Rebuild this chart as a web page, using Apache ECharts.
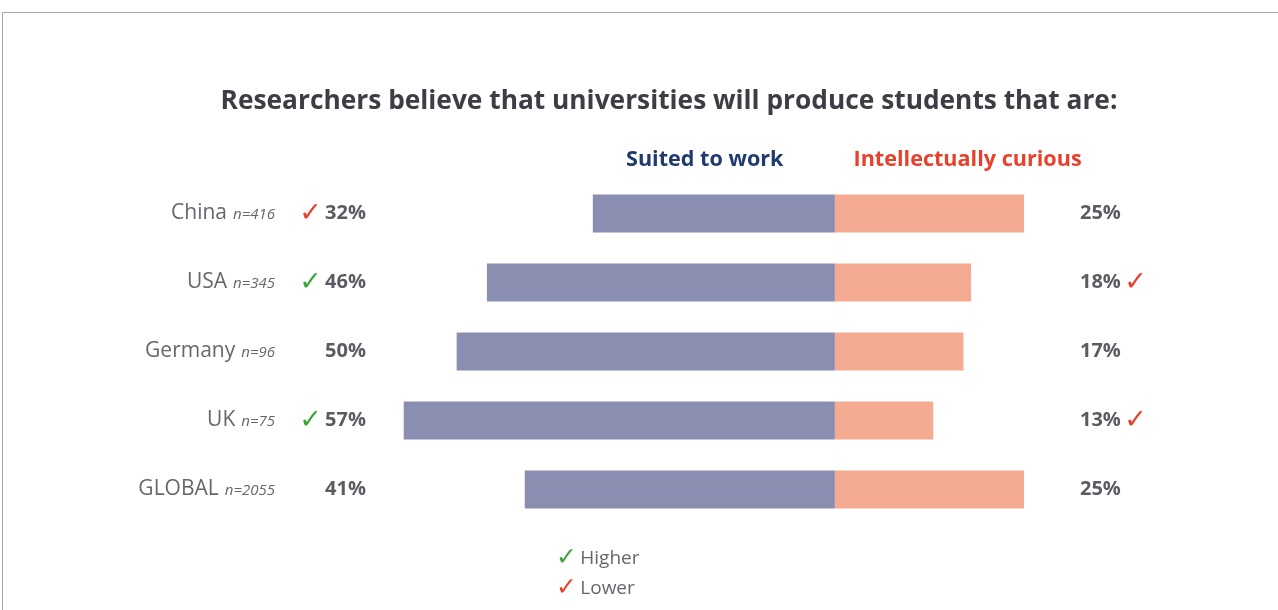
<!DOCTYPE html>
<html>
<head>
<meta charset="utf-8">
<script src="https://cdn.jsdelivr.net/npm/echarts@6/dist/echarts.min.js"></script>
<style>
  html, body { margin: 0; padding: 0; background: #fff; }
  #chart { width: 1278px; height: 610px; }
</style>
</head>
<body>
<div id="chart"></div>
<script>
// data
var countries = ['China', 'USA', 'Germany', 'UK', 'GLOBAL'];
var samples = [416, 345, 96, 75, 2055];
var suitedToWork = [32, 46, 50, 57, 41];
var curious = [25, 18, 17, 13, 25];
// check marks vs. global: 'hi' = higher, 'lo' = lower, '' = none
var suitedMarks = ['lo', 'hi', '', 'hi', ''];
var curiousMarks = ['', 'lo', '', 'lo', ''];

var seriesNames = ['Suited to work', 'Intellectually curious'];
var textGray = '#66666e';
var green = '#3aa63a';
var red = '#e8402a';

var chart = echarts.init(document.getElementById('chart'));

function markTag(m) {
  if (m === 'hi') return '{hi|✓}';
  if (m === 'lo') return '{lo|✓}';
  return '';
}

var markRich = {
  hi: { color: green, fontSize: 27, fontFamily: 'DejaVu Sans' },
  lo: { color: red, fontSize: 27, fontFamily: 'DejaVu Sans' },
  p: { color: '#5b5b63', fontSize: 20, fontWeight: 'bold', fontFamily: 'Open Sans' }
};

var option = {
  backgroundColor: '#fff',
  animation: false,
  title: {
    text: 'Researchers believe that universities will produce students that are:',
    left: 664,
    textAlign: 'center',
    top: 84,
    textStyle: {
      color: '#3d3d45',
      fontSize: 26.3,
      fontWeight: 'bold',
      fontFamily: 'Open Sans'
    }
  },
  legend: {
    left: 616,
    top: 144,
    itemWidth: 0,
    itemHeight: 0,
    itemGap: 65,
    selectedMode: false,
    textStyle: { fontSize: 21.6, fontWeight: 'bold', fontFamily: 'Open Sans' },
    data: [
      { name: seriesNames[0], textStyle: { color: '#1f3a6e' } },
      { name: seriesNames[1], textStyle: { color: red } }
    ]
  },
  grid: {
    left: 381,
    width: 696,
    top: 179,
    height: 345
  },
  xAxis: {
    type: 'value',
    min: -60,
    max: 32,
    show: false
  },
  yAxis: [{
    type: 'category',
    inverse: true,
    data: countries,
    axisLine: { show: false },
    axisTick: { show: false },
    axisLabel: {
      margin: 106,
      formatter: function (v, i) {
        return '{c|' + v + '}{n|n=' + samples[i] + '}';
      },
      rich: {
        c: { color: textGray, fontSize: 21, fontFamily: 'Open Sans' },
        n: { color: textGray, fontSize: 15, fontStyle: 'italic', fontFamily: 'Open Sans', padding: [3, 0, 0, 6] }
      }
    }
  }, {
    type: 'category',
    inverse: true,
    position: 'left',
    data: countries,
    axisLine: { show: false },
    axisTick: { show: false },
    axisLabel: {
      margin: 15,
      formatter: function (v, i) {
        return markTag(suitedMarks[i]) + ' {p|' + suitedToWork[i] + '%}';
      },
      rich: markRich
    }
  }, {
    type: 'category',
    inverse: true,
    position: 'right',
    data: countries,
    axisLine: { show: false },
    axisTick: { show: false },
    axisLabel: {
      margin: 3,
      formatter: function (v, i) {
        return '{p|' + curious[i] + '%} ' + markTag(curiousMarks[i]);
      },
      rich: markRich
    }
  }],
  series: [{
    name: seriesNames[0],
    type: 'bar',
    barWidth: 38,
    barGap: '-100%',
    itemStyle: { color: '#8a8eb0' },
    data: suitedToWork.map(function (v) { return -v; })
  }, {
    name: seriesNames[1],
    type: 'bar',
    barWidth: 38,
    barGap: '-100%',
    itemStyle: { color: '#f5ab91' },
    data: curious
  }],
  graphic: [{
    type: 'rect',
    shape: { x: 2.5, y: 12.5, width: 1400, height: 700 },
    style: { fill: 'none', stroke: '#a8a8a8', lineWidth: 1 },
    silent: true
  }, {
    type: 'text',
    left: 556,
    top: 546,
    style: {
      text: '{hi|✓} {t|Higher}\n{lo|✓} {t|Lower}',
      rich: {
        hi: { fill: green, fontSize: 25, fontFamily: 'DejaVu Sans', lineHeight: 30 },
        lo: { fill: red, fontSize: 25, fontFamily: 'DejaVu Sans', lineHeight: 30 },
        t: { fill: textGray, fontSize: 19, fontFamily: 'Open Sans', lineHeight: 30 }
      }
    }
  }]
};

chart.setOption(option);
</script>
</body>
</html>
